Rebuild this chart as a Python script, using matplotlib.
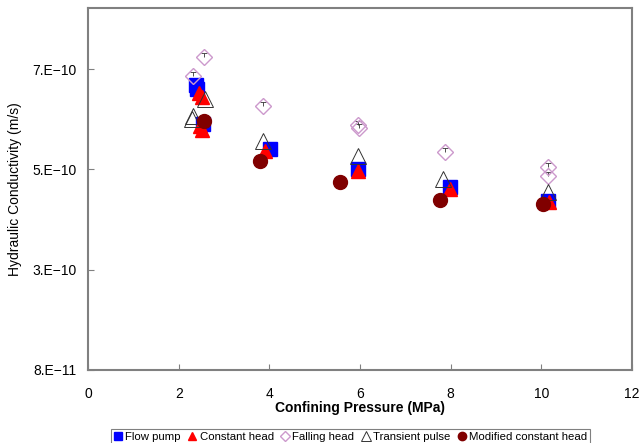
import numpy as np
import matplotlib
import matplotlib.pyplot as plt
from matplotlib.ticker import FixedLocator

matplotlib.rc("font", family=["Liberation Sans", "DejaVu Sans"])

# values (x in MPa, y in 1e-10 m/s)
flow_pump_x = [2.38, 2.41, 2.54, 4.01, 5.96, 7.99, 10.15]
flow_pump_y = [6.48, 6.40, 5.70, 5.20, 4.80, 4.44, 4.16]

constant_head_x = [2.45, 2.51, 2.47, 2.51, 3.90, 5.96, 7.99, 10.17]
constant_head_y = [6.32, 6.24, 5.66, 5.58, 5.16, 4.76, 4.40, 4.14]

falling_head_x = [2.56, 2.32, 3.86, 5.96, 5.97, 7.88, 10.15, 10.15]
falling_head_y = [7.04, 6.66, 6.06, 5.68, 5.62, 5.14, 4.84, 4.66]
falling_head_err = 0.08

transient_x = [2.58, 2.32, 2.30, 3.86, 5.96, 7.83, 10.15]
transient_y = [6.20, 5.86, 5.80, 5.36, 5.06, 4.60, 4.34]

modified_x = [2.56, 3.79, 5.56, 7.77, 10.04]
modified_y = [5.76, 4.96, 4.54, 4.18, 4.10]

y_ticks = [0.8, 2.8, 4.8, 6.8]
y_tick_labels = ["8.E\u221211", "3.E\u221210", "5.E\u221210", "7.E\u221210"]

fig = plt.figure(figsize=(6.43, 4.43), dpi=100)
ax = fig.add_axes([0.137, 0.165, 0.846, 0.817])

ax.plot(flow_pump_x, flow_pump_y, linestyle="none", marker="s",
        markersize=9.5, color="#0000ff", label="Flow pump")
ax.plot(constant_head_x, constant_head_y, linestyle="none", marker="^",
        markersize=10, color="#ff0000", label="Constant head")

# only the upper half of the error bar shows, as a small "T"
fh_top = np.array(falling_head_y) + falling_head_err
ax.vlines(falling_head_x, falling_head_y, fh_top, color="#333333",
          linewidth=0.6)
ax.plot(falling_head_x, fh_top, linestyle="none", marker="_",
        markersize=4, markeredgewidth=0.6, color="#333333")
ax.plot(falling_head_x, falling_head_y, linestyle="none", marker="D",
        markersize=8, markerfacecolor="none", markeredgecolor="#cc99cc",
        markeredgewidth=1.0, label="Falling head")

ax.plot(transient_x, transient_y, linestyle="none", marker="^",
        markersize=11, markerfacecolor="none", markeredgecolor="#333333",
        markeredgewidth=0.7, label="Transient pulse")
ax.plot(modified_x, modified_y, linestyle="none", marker="o",
        markersize=10, color="#800000", label="Modified constant head")

ax.set_xlim(0, 12)
ax.set_ylim(0.8, 8.02)
ax.set_xticks(np.arange(0, 13, 2))
ax.yaxis.set_major_locator(FixedLocator(y_ticks))
ax.set_yticklabels(y_tick_labels)

for side in ["left", "right", "top", "bottom"]:
    ax.spines[side].set_color("#808080")
    ax.spines[side].set_linewidth(1.5)
ax.tick_params(direction="in", length=4, color="#808080", labelsize=10,
               pad=8)
ax.tick_params(axis="x", pad=12)

ax.set_xlabel("Confining Pressure (MPa)", fontsize=10, fontweight="bold",
              labelpad=0)
ax.set_ylabel("Hydraulic Conductivity (m/s)", fontsize=10, labelpad=8)

leg = fig.legend(loc="lower center", bbox_to_anchor=(0.545, -0.015),
                 ncol=5, fontsize=8.2, markerscale=0.6, handlelength=0.8,
                 handletextpad=0.25, columnspacing=0.6, borderpad=0.2,
                 fancybox=False, framealpha=1)
leg.get_frame().set_edgecolor("#808080")
leg.get_frame().set_linewidth(0.8)

plt.savefig("out.png", dpi=100)
